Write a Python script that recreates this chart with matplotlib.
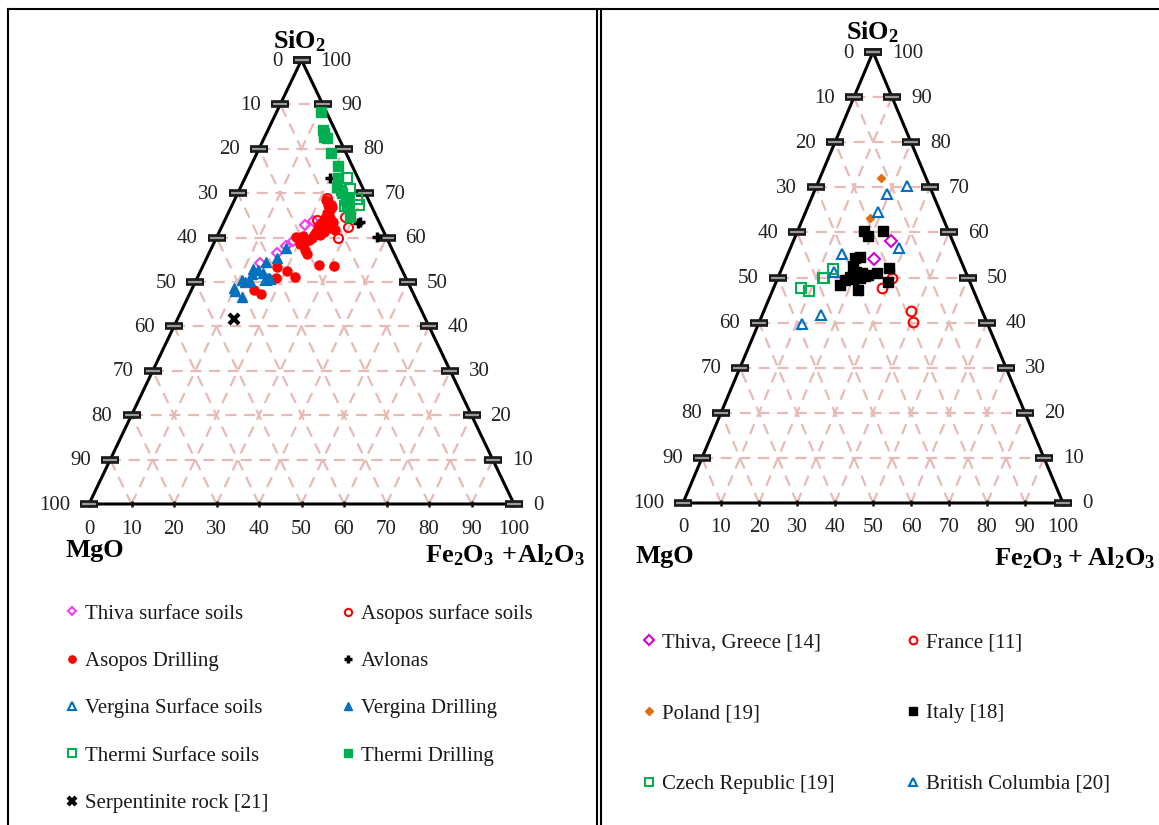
import numpy as np
import matplotlib.pyplot as plt
from matplotlib.lines import Line2D
from matplotlib.transforms import offset_copy

plt.rcParams['font.family'] = 'Liberation Serif'
plt.rcParams['mathtext.fontset'] = 'custom'
plt.rcParams['mathtext.rm'] = 'Liberation Serif'
plt.rcParams['mathtext.bf'] = 'Liberation Serif:bold'

W, H = 1159, 825

# composition in wt %: SiO2 and Fe2O3+Al2O3, MgO is the remainder
# --- study sites ---
thiva_soil_sio2 = [54.3, 56.5, 58.1, 59.3, 62.8, 63.8]
thiva_soil_r2o3 = [13.1, 16.1, 17.4, 18.4, 19.4, 20.8]

asopos_soil_sio2 = [68.9, 67.3, 64.7, 62.5, 59.8, 64.0]
asopos_soil_r2o3 = [21.5, 23.3, 27.9, 29.8, 28.8, 21.6]

asopos_drill_sio2 = [68.5, 67.4, 66.2, 65.5, 64.4, 63.5, 62.8, 62.2, 61.3, 60.6, 60.6, 61.3,
                     62.2, 63.5, 61.7, 59.9, 59.5, 59.0, 58.6, 60.1, 57.2, 56.3, 53.8, 53.6,
                     53.4, 52.5, 51.1, 50.9, 48.2, 47.3, 64.4, 62.8, 66.9, 60.4]
asopos_drill_r2o3 = [21.5, 22.5, 23.6, 23.2, 23.3, 23.0, 23.0, 22.8, 22.8, 22.6, 24.1, 24.6,
                     25.6, 25.6, 27.0, 22.5, 22.0, 21.3, 20.3, 18.6, 22.2, 23.1, 27.2, 30.8,
                     17.5, 20.4, 23.0, 18.6, 14.7, 16.9, 24.5, 24.4, 23.8, 20.2]

avlonas_sio2 = [73.5, 63.2, 63.6, 60.2]
avlonas_r2o3 = [20.0, 31.8, 32.0, 37.6]

vergina_soil_sio2 = [50.5, 50.7]
vergina_soil_r2o3 = [16.4, 17.2]

vergina_drill_sio2 = [48.6, 48.0, 46.6, 50.1, 50.2, 51.8, 52.9, 52.0, 54.6, 50.8, 55.3, 57.6, 52.7, 50.5]
vergina_drill_r2o3 = [9.7, 10.4, 12.6, 11.7, 12.8, 12.4, 12.2, 15.0, 14.3, 16.6, 16.5, 17.6, 13.4, 10.8]

thermi_soil_sio2 = [73.4, 70.9, 68.6, 67.3, 68.9, 67.1]
thermi_soil_r2o3 = [24.1, 26.0, 28.8, 29.8, 26.8, 26.7]

thermi_drill_sio2 = [88.4, 84.2, 83.6, 82.7, 82.4, 79.0, 76.1, 73.4, 71.4, 70.7, 70.0, 68.5, 67.4, 66.7, 64.7]
thermi_drill_r2o3 = [10.4, 13.0, 13.6, 13.9, 14.7, 17.4, 20.6, 21.8, 22.6, 23.9, 24.5, 26.2, 27.1, 27.8, 29.1]

serp_sio2 = [41.6]
serp_r2o3 = [13.2]

# --- literature ---
lit_thiva_sio2 = [58.2, 54.1]
lit_thiva_r2o3 = [25.6, 23.1]

france_sio2 = [50.0, 47.7, 42.6, 40.1]
france_r2o3 = [30.1, 28.5, 38.6, 40.4]

poland_sio2 = [72.0, 63.1]
poland_r2o3 = [16.1, 17.7]

italy_sio2 = [60.4, 59.2, 60.2, 54.6, 54.3, 52.5, 50.9, 50.6, 50.9, 52.2, 48.9, 50.2, 49.4,
              48.3, 47.2, 49.6, 49.8, 51.2, 50.3]
italy_r2o3 = [17.5, 19.2, 22.6, 19.3, 18.2, 18.5, 21.6, 23.5, 25.7, 28.2, 29.4, 18.8, 17.9,
              17.2, 22.5, 20.0, 21.7, 19.9, 22.8]

czech_sio2 = [51.9, 49.8, 50.0, 47.6, 47.1]
czech_r2o3 = [13.5, 11.9, 12.2, 7.2, 9.6]

bc_sio2 = [70.3, 68.5, 64.6, 56.5, 55.1, 51.3, 41.7, 39.8]
bc_r2o3 = [23.8, 19.4, 18.9, 28.6, 14.3, 14.1, 15.4, 11.3]

ticks = list(range(0, 101, 10))

GRID = '#e6bab6'
BLUE = '#0070c0'
GREEN = '#00b050'
RED = '#ff0000'


def tern(sio2, r2o3):
    s = np.asarray(sio2, float)
    r = np.asarray(r2o3, float)
    return r + s / 2, s


def frame(ax, fig):
    ax.set_xlim(0, 100)
    ax.set_ylim(0, 100)
    ax.axis('off')
    dash = dict(color=GRID, lw=1.6, ls=(0, (5, 3.4)), zorder=1)
    for c in ticks[1:-1]:
        ax.plot([c / 2, 100 - c / 2], [c, c], **dash)
        ax.plot([c, c + (100 - c) / 2], [0, 100 - c], **dash)
        ax.plot([100 - c, (100 - c) / 2], [0, 100 - c], **dash)
    ax.plot([0, 100, 50, 0], [0, 0, 100, 0], color='black', lw=2.2,
            solid_joinstyle='miter', zorder=3, clip_on=False)

    t = np.array(ticks, float)
    # bottom ticks
    ax.plot(t, np.zeros_like(t), ls='none', marker='|', ms=5, mew=1.8,
            color='#111111', zorder=4, clip_on=False)
    # bar ticks on the sloping edges
    for xs in (t / 2, 100 - t / 2):
        ax.plot(xs, t, ls='none', marker='_', ms=13, mew=5.5, color='#1a1a1a',
                zorder=4, clip_on=False)
        ax.plot(xs, t, ls='none', marker='_', ms=10.5, mew=1.6, color='#9a9a9a',
                zorder=5, clip_on=False)

    lt = offset_copy(ax.transData, fig=fig, x=-19, y=-1, units='dots')
    rt = offset_copy(ax.transData, fig=fig, x=19, y=-1, units='dots')
    bt = offset_copy(ax.transData, fig=fig, x=0, y=-25, units='dots')
    for s in ticks:
        ax.text(s / 2, s, str(100 - s), transform=lt, ha='right', va='center',
                fontsize=15, color='#222222')
        ax.text(100 - s / 2, s, str(s), transform=rt, ha='left', va='center',
                fontsize=15, color='#222222')
        ax.text(s, 0, str(s), transform=bt, ha='center', va='center',
                fontsize=15, color='#222222')


fig = plt.figure(figsize=(W / 100, H / 100), dpi=100)

axL = fig.add_axes([89 / W, (H - 504) / H, 425 / W, 444 / H])
axR = fig.add_axes([683 / W, (H - 503) / H, 380 / W, 451 / H])
frame(axL, fig)
frame(axR, fig)


def pts(ax, s, r, **kw):
    x, y = tern(s, r)
    (h,) = ax.plot(x, y, ls='none', zorder=6, clip_on=False, **kw)
    return h


# left panel: study sites
open_kw = dict(markerfacecolor='none', mew=1.5)
hL = {}
hL['thiva'] = pts(axL, thiva_soil_sio2, thiva_soil_r2o3, marker='D', ms=5.5,
                  color='#f23cf2', label='Thiva surface soils', **open_kw)
hL['asd'] = pts(axL, asopos_drill_sio2, asopos_drill_r2o3, marker='o', ms=6.5,
                color=RED, label='Asopos Drilling')
hL['ass'] = pts(axL, asopos_soil_sio2, asopos_soil_r2o3, marker='o', ms=6.5,
                color=RED, label='Asopos surface soils', **open_kw)
hL['avl'] = pts(axL, avlonas_sio2, avlonas_r2o3, marker='+', ms=7, mew=2.5,
                color='black', label='Avlonas')
hL['vd'] = pts(axL, vergina_drill_sio2, vergina_drill_r2o3, marker='^', ms=7,
               color=BLUE, label='Vergina Drilling')
hL['vs'] = pts(axL, vergina_soil_sio2, vergina_soil_r2o3, marker='^', ms=7,
               color=BLUE, label='Vergina Surface soils', **open_kw)
hL['td'] = pts(axL, thermi_drill_sio2, thermi_drill_r2o3, marker='s', ms=7,
               color=GREEN, label='Thermi Drilling')
hL['ts'] = pts(axL, thermi_soil_sio2, thermi_soil_r2o3, marker='s', ms=7,
               color=GREEN, label='Thermi Surface soils', **open_kw)
hL['serp'] = pts(axL, serp_sio2, serp_r2o3, marker='x', ms=7, mew=3,
                 color='black', label='Serpentinite rock [21]')

# right panel: literature data
hR = {}
hR['thiva'] = pts(axR, lit_thiva_sio2, lit_thiva_r2o3, marker='D', ms=6,
                  color='#d400d4', label='Thiva, Greece [14]', **open_kw)
hR['fr'] = pts(axR, france_sio2, france_r2o3, marker='o', ms=7, color=RED,
               label='France [11]', **open_kw)
hR['pl'] = pts(axR, poland_sio2, poland_r2o3, marker='D', ms=4.5,
               color='#e46c0a', label='Poland [19]')
hR['it'] = pts(axR, italy_sio2, italy_r2o3, marker='s', ms=7.5, color='black',
               label='Italy [18]')
hR['cz'] = pts(axR, czech_sio2, czech_r2o3, marker='s', ms=7.5, color=GREEN,
               label='Czech Republic [19]', **open_kw)
hR['bc'] = pts(axR, bc_sio2, bc_r2o3, marker='^', ms=7, color=BLUE,
               label='British Columbia [20]', **open_kw)

# corner titles
bold = dict(fontsize=19, fontweight='bold', color='black')
fig.text(300 / W, 1 - 41 / H, r'$\mathbf{SiO_2}$', ha='center', va='center', **bold)
fig.text(65 / W, 1 - 551 / H, 'MgO', ha='left', va='center', **bold)
fig.text(585 / W, 1 - 555 / H, r'$\mathbf{Fe_2O_3\ {+}Al_2O_3}$', ha='right', va='center', **bold)
fig.text(873 / W, 1 - 32 / H, r'$\mathbf{SiO_2}$', ha='center', va='center', **bold)
fig.text(636 / W, 1 - 556 / H, 'MgO', ha='left', va='center', **bold)
fig.text(1155 / W, 1 - 558 / H, r'$\mathbf{Fe_2O_3 + Al_2O_3}$', ha='right', va='center', **bold)

# legends, one per column
leg_kw = dict(loc='upper left', frameon=False, fontsize=15, handlelength=0.7,
              handletextpad=0.25, borderpad=0, borderaxespad=0, markerscale=0.8,
              numpoints=1)
cols = [
    ([hL['thiva'], hL['asd'], hL['vs'], hL['ts'], hL['serp']], 65, 604, 1.33),
    ([hL['ass'], hL['avl'], hL['vd'], hL['td']], 341, 604, 1.33),
    ([hR['thiva'], hR['pl'], hR['cz']], 642, 633, 2.45),
    ([hR['fr'], hR['it'], hR['bc']], 906, 633, 2.45),
]
for handles, x0, y0, sp in cols:
    leg = fig.legend(handles=handles, bbox_to_anchor=(x0 / W, 1 - y0 / H),
                     labelspacing=sp, **leg_kw)
    for txt in leg.get_texts():
        txt.set_color('#1a1a1a')

# table rules around the two panels
rule = dict(color='black', lw=1.5, transform=fig.transFigure)
fig.add_artist(Line2D([8 / W, 1], [1 - 9 / H, 1 - 9 / H], **rule))
for xv in (8, 596.5, 601):
    fig.add_artist(Line2D([xv / W, xv / W], [0, 1 - 9 / H], **rule))

fig.savefig('out.png', dpi=100)
